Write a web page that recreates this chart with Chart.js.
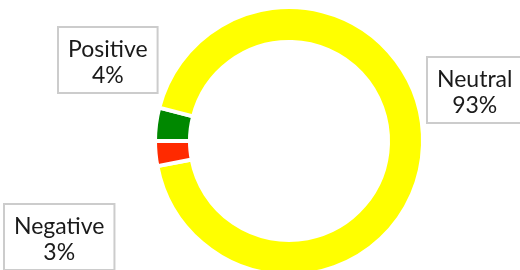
<!DOCTYPE html>
<html>
<head>
<meta charset="utf-8">
<script src="https://cdn.jsdelivr.net/npm/chart.js@4.4.1/dist/chart.umd.min.js"></script>
<style>
  html, body { margin: 0; padding: 0; background: #ffffff; overflow: hidden; }
  #wrap { position: relative; width: 520px; height: 280px; }
</style>
</head>
<body>
<div id="wrap"><canvas id="c" width="520" height="280"></canvas></div>
<script>
const categories = ['Positive', 'Neutral', 'Negative'];
const sentimentShare = [4, 93, 3];
const valueLabels = ['4%', '93%', '3%'];
const sliceColors = ['#008800', '#ffff00', '#ff2a00'];

const boxLabels = {
  id: 'boxLabels',
  afterDraw(chart, args, opts) {
    const ctx = chart.ctx;
    const meta = chart.getDatasetMeta(0);
    const cx = meta.data[0].x, cy = meta.data[0].y;
    ctx.save();
    ctx.font = opts.font;
    ctx.textAlign = 'center';
    ctx.textBaseline = 'alphabetic';
    chart.data.labels.forEach((lab, i) => {
      const lines = [lab, valueLabels[i]];
      const w = Math.max(...lines.map(t => ctx.measureText(t).width)) + 2 * opts.padX;
      const h = opts.boxH;
      const left = cx + opts.offsets[i][0];
      const top = cy + opts.offsets[i][1];
      ctx.fillStyle = '#ffffff';
      ctx.fillRect(left, top, w, h);
      ctx.strokeStyle = '#cccccc';
      ctx.lineWidth = 2;
      ctx.strokeRect(left, top, w, h);
      ctx.fillStyle = '#1a1a1a';
      ctx.fillText(lines[0], left + w / 2, top + opts.base1);
      ctx.fillText(lines[1], left + w / 2, top + opts.base1 + opts.lineGap);
    });
    ctx.restore();
  }
};

new Chart(document.getElementById('c'), {
  type: 'doughnut',
  data: {
    labels: categories,
    datasets: [{
      data: sentimentShare,
      backgroundColor: sliceColors,
      borderColor: '#ffffff',
      borderWidth: 4,
      hoverOffset: 0
    }]
  },
  options: {
    responsive: false,
    animation: false,
    rotation: 270,
    cutout: '73.9%',
    layout: { padding: { left: 153, right: 95, top: 5, bottom: 3 } },
    plugins: {
      legend: { display: false },
      tooltip: { enabled: false },
      boxLabels: {
        font: '23px Lato',
        padX: 10,
        boxH: 66,
        base1: 30,
        lineGap: 25.5,
        offsets: [[-231, -114], [138, -84], [-285, 63]]
      }
    }
  },
  plugins: [boxLabels]
});
</script>
</body>
</html>
